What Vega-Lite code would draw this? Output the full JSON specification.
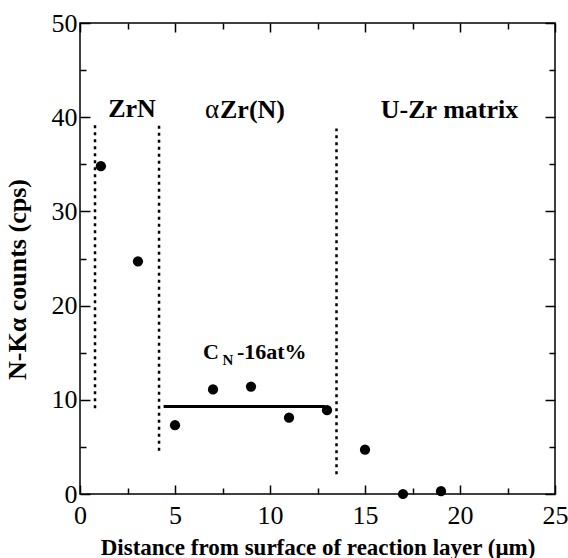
{
  "$schema": "https://vega.github.io/schema/vega-lite/v6.json",
  "width": 475,
  "height": 471,
  "autosize": {"type": "none"},
  "padding": {"left": 80, "top": 23, "right": 13, "bottom": 64},
  "background": "white",
  "datasets": {
    "points": [
      {"d": 1.1, "c": 34.8},
      {"d": 3.05, "c": 24.7},
      {"d": 5.0, "c": 7.3},
      {"d": 7.0, "c": 11.1},
      {"d": 9.0, "c": 11.4},
      {"d": 11.0, "c": 8.1},
      {"d": 13.0, "c": 8.9},
      {"d": 15.0, "c": 4.7},
      {"d": 17.0, "c": 0.0},
      {"d": 19.0, "c": 0.3}
    ],
    "bounds": [
      {"d": 0.79, "y1": 9.1, "y2": 39.4},
      {"d": 4.16, "y1": 4.6, "y2": 39.2},
      {"d": 13.5, "y1": 2.1, "y2": 38.8}
    ],
    "level": [
      {"d1": 4.4, "d2": 12.9, "c": 9.3}
    ],
    "bold_center": [
      {"d": 2.74, "c": 40.0, "label": "ZrN"},
      {"d": 19.45, "c": 39.9, "label": "U-Zr matrix"}
    ],
    "bold_left": [
      {"d": 7.37, "c": 39.9, "label": "Zr(N)"}
    ],
    "alpha": [
      {"d": 6.58, "c": 39.9, "label": "α"}
    ],
    "cn": [
      {"d": 6.47, "c": 14.3, "label": "C"},
      {"d": 8.26, "c": 14.3, "label": "-16at%"}
    ],
    "sub": [
      {"d": 7.5, "c": 13.7, "label": "N"}
    ]
  },
  "resolve": {"axis": {"x": "independent", "y": "independent"}},
  "layer": [
    {
      "data": {"name": "bounds"},
      "mark": {"type": "rule", "color": "black", "strokeWidth": 2.5, "strokeDash": [3, 4]},
      "encoding": {
        "x": {"field": "d", "type": "quantitative", "scale": {"domain": [0, 25], "nice": false},
              "axis": {"orient": "bottom", "values": [2.5, 7.5, 12.5, 17.5, 22.5], "labels": false, "tickSize": -6, "title": null}},
        "y": {"field": "y1", "type": "quantitative", "scale": {"domain": [0, 50], "nice": false},
              "axis": {"orient": "left", "values": [5, 15, 25, 35, 45], "labels": false, "tickSize": -6, "title": null}},
        "y2": {"field": "y2"}
      }
    },
    {
      "data": {"name": "level"},
      "mark": {"type": "rule", "color": "black", "strokeWidth": 3},
      "encoding": {
        "x": {"field": "d1", "type": "quantitative",
              "axis": {"orient": "top", "values": [0, 5, 10, 15, 20, 25], "labels": false, "tickSize": -9, "title": null}},
        "x2": {"field": "d2"},
        "y": {"field": "c", "type": "quantitative",
              "axis": {"orient": "right", "values": [0, 10, 20, 30, 40, 50], "labels": false, "tickSize": -10, "title": null}}
      }
    },
    {
      "data": {"name": "bold_center"},
      "mark": {"type": "text", "font": "Liberation Serif", "fontWeight": "bold", "fontSize": 26, "align": "center", "baseline": "alphabetic", "color": "black"},
      "encoding": {
        "x": {"field": "d", "type": "quantitative",
              "axis": {"orient": "top", "values": [2.5, 7.5, 12.5, 17.5, 22.5], "labels": false, "tickSize": -6, "title": null}},
        "y": {"field": "c", "type": "quantitative",
              "axis": {"orient": "right", "values": [5, 15, 25, 35, 45], "labels": false, "tickSize": -6, "title": null}},
        "text": {"field": "label"}
      }
    },
    {
      "data": {"name": "bold_left"},
      "mark": {"type": "text", "font": "Liberation Serif", "fontWeight": "bold", "fontSize": 26, "align": "left", "baseline": "alphabetic", "color": "black"},
      "encoding": {
        "x": {"field": "d", "type": "quantitative", "axis": null},
        "y": {"field": "c", "type": "quantitative", "axis": null},
        "text": {"field": "label"}
      }
    },
    {
      "data": {"name": "alpha"},
      "mark": {"type": "text", "font": "Liberation Serif", "fontWeight": "normal", "fontSize": 27, "align": "left", "baseline": "alphabetic", "color": "black"},
      "encoding": {
        "x": {"field": "d", "type": "quantitative", "axis": null},
        "y": {"field": "c", "type": "quantitative", "axis": null},
        "text": {"field": "label"}
      }
    },
    {
      "data": {"name": "cn"},
      "mark": {"type": "text", "font": "Liberation Serif", "fontWeight": "bold", "fontSize": 22, "align": "left", "baseline": "alphabetic", "color": "black"},
      "encoding": {
        "x": {"field": "d", "type": "quantitative", "axis": null},
        "y": {"field": "c", "type": "quantitative", "axis": null},
        "text": {"field": "label"}
      }
    },
    {
      "data": {"name": "sub"},
      "mark": {"type": "text", "font": "Liberation Serif", "fontWeight": "bold", "fontSize": 15, "align": "left", "baseline": "alphabetic", "color": "black"},
      "encoding": {
        "x": {"field": "d", "type": "quantitative", "axis": null},
        "y": {"field": "c", "type": "quantitative", "axis": null},
        "text": {"field": "label"}
      }
    },
    {
      "data": {"name": "points"},
      "mark": {"type": "point", "filled": true, "color": "black", "opacity": 1, "size": 105},
      "encoding": {
        "x": {"field": "d", "type": "quantitative",
              "axis": {"orient": "bottom", "values": [0, 5, 10, 15, 20, 25], "tickSize": -9, "labelPadding": 17, "labelFlush": false,
                       "title": "Distance from surface of reaction layer (μm)", "titleFontSize": 23, "titleBaseline": "alphabetic", "titleY": 60}},
        "y": {"field": "c", "type": "quantitative",
              "axis": {"orient": "left", "values": [0, 10, 20, 30, 40, 50], "tickSize": -10, "labelPadding": 13, "labelFlush": false,
                       "title": "N-Kα counts (cps)", "titleFontSize": 26, "titleBaseline": "alphabetic", "titleX": -55, "titleY": 256}}
      }
    }
  ],
  "config": {
    "view": {"stroke": "black", "strokeWidth": 1.5},
    "axis": {
      "grid": false,
      "domain": false,
      "tickColor": "black",
      "tickWidth": 1.5,
      "labelFont": "Liberation Serif",
      "labelFontSize": 26,
      "labelColor": "black",
      "titleFont": "Liberation Serif",
      "titleFontWeight": "bold",
      "titleColor": "black"
    }
  }
}
